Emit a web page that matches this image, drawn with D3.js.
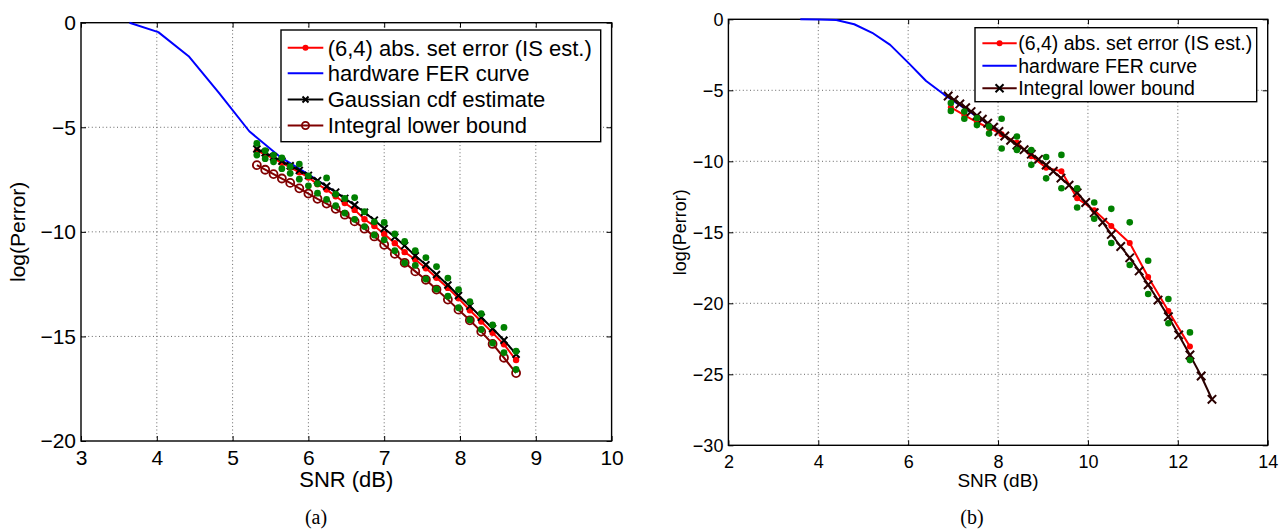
<!DOCTYPE html>
<html><head><meta charset="utf-8">
<script src="https://cdn.jsdelivr.net/npm/d3@7"></script>
<style>html,body{margin:0;padding:0;background:#fff}svg{display:block}</style>
</head><body>
<svg id="chart" width="1279" height="531"></svg>
<script>
// ---------- Panel (a) data ----------
const xTicksA = [3,4,5,6,7,8,9,10];
const yTicksA = [0,-5,-10,-15,-20];
const snrA   = [5.32,5.43,5.54,5.65,5.76,5.88,6.00,6.12,6.24,6.36,6.48,6.61,6.74,6.87,7.00,7.14,7.27,7.41,7.55,7.69,7.84,7.98,8.13,8.28,8.43,8.58,8.74];
const isEstA = [-6.12,-6.30,-6.50,-6.70,-6.92,-7.15,-7.40,-7.72,-7.98,-8.30,-8.62,-8.95,-9.40,-9.72,-10.10,-10.54,-10.97,-11.32,-11.74,-12.20,-12.68,-13.18,-13.75,-14.29,-14.83,-15.38,-16.13];
const gaussA = [-6.04,-6.22,-6.42,-6.62,-6.84,-7.06,-7.30,-7.55,-7.82,-8.10,-8.40,-8.72,-9.06,-9.44,-9.84,-10.25,-10.66,-11.14,-11.57,-12.04,-12.54,-13.04,-13.55,-14.08,-14.62,-15.18,-15.85];
const lowerA = [-6.81,-7.03,-7.24,-7.45,-7.66,-7.92,-8.17,-8.42,-8.65,-8.90,-9.18,-9.50,-9.85,-10.22,-10.62,-11.05,-11.48,-11.89,-12.29,-12.76,-13.24,-13.72,-14.23,-14.77,-15.36,-16.02,-16.75];
const greenHiA = [-5.77,-6.12,-6.33,-6.47,-6.88,-6.76,-7.32,-7.70,-7.42,-8.20,-8.40,-8.36,-9.04,-9.52,-9.55,-10.10,-10.46,-10.90,-11.23,-11.66,-12.21,-12.76,-13.34,-13.91,-14.45,-14.57,-15.71];
const greenLoA = [-6.33,-6.50,-6.65,-6.98,-7.20,-7.48,-7.80,-8.15,-8.45,-8.75,-9.10,-9.40,-9.75,-10.15,-10.38,-10.90,-11.48,-11.60,-12.26,-12.74,-13.08,-13.63,-14.21,-14.67,-15.32,-15.77,-16.58];
const ferSnrA = [3.64,4.02,4.42,4.82,5.22,5.62,6.02,6.42];
const ferA    = [0,-0.45,-1.60,-3.35,-5.19,-6.40,-7.30,-8.25];

// ---------- Panel (b) data ----------
const xTicksB = [2,4,6,8,10,12,14];
const yTicksB = [0,-5,-10,-15,-20,-25,-30];
const isSnrB  = [6.95,7.25,7.53,7.80,8.08,8.42,8.74,9.07,9.41,9.76,10.14,10.52,10.93,11.34,11.79,12.27];
const isEstB  = [-6.20,-6.75,-7.25,-7.65,-8.10,-8.70,-9.65,-10.45,-10.70,-12.60,-13.45,-14.55,-15.75,-18.15,-20.55,-23.05];
const greenHiB = [-5.90,-6.50,-6.95,-7.55,-7.00,-8.25,-9.20,-9.70,-9.55,-11.90,-12.90,-13.35,-14.30,-17.00,-19.70,-22.05];
const greenLoB = [-6.45,-7.00,-7.45,-8.05,-9.10,-9.20,-10.25,-11.20,-11.90,-13.25,-14.05,-15.75,-17.30,-19.35,-21.40,-24.00];
const lbSnrB  = [6.89,7.02,7.15,7.28,7.40,7.53,7.65,7.77,7.90,8.02,8.15,8.28,8.42,8.58,8.74,8.90,9.07,9.23,9.40,9.58,9.76,9.95,10.14,10.33,10.52,10.73,10.93,11.14,11.34,11.56,11.79,12.02,12.27,12.52,12.76];
const lowerB  = [-5.40,-5.68,-5.96,-6.22,-6.50,-6.78,-7.04,-7.32,-7.60,-7.90,-8.22,-8.52,-8.85,-9.18,-9.50,-9.86,-10.26,-10.70,-11.18,-11.68,-12.22,-12.90,-13.62,-14.30,-15.15,-16.00,-16.80,-17.72,-18.70,-19.77,-20.94,-22.23,-23.64,-25.12,-26.76];
const ferSnrB = [3.6,4.0,4.4,4.8,5.2,5.6,6.0,6.4,6.8,7.2,7.6,8.0];
const ferB    = [0,-0.01,-0.05,-0.35,-0.95,-1.80,-3.05,-4.35,-5.30,-6.15,-7.00,-7.80];

const SANS = "'Liberation Sans', Arial, Helvetica, sans-serif";
const SERIF = "'Liberation Serif', 'Times New Roman', serif";
const RED = "#ff0000", BLUE = "#0000ff", GREEN = "#008000", BLACK = "#000000", MAROON = "#800000", DARK = "#2a0000";

const svg = d3.select("#chart");
svg.append("rect").attr("width",1279).attr("height",531).attr("fill","#fff");

const xMark = s => `M${-s},${-s}L${s},${s}M${-s},${s}L${s},${-s}`;

function panel(o){
  const x = d3.scaleLinear().domain(o.xDomain).range([o.left,o.right]);
  const y = d3.scaleLinear().domain(o.yDomain).range([o.bottom,o.top]);
  const g = svg.append("g");
  const W = o.right-o.left, H = o.bottom-o.top;

  // grid
  g.append("g").selectAll("line").data(o.xTicks.slice(1,-1)).enter().append("line")
    .attr("x1",d=>x(d)).attr("x2",d=>x(d)).attr("y1",o.top).attr("y2",o.bottom)
    .attr("stroke","#666").attr("stroke-width",1).attr("stroke-dasharray","1,2.6");
  g.append("g").selectAll("line").data(o.yTicks.slice(1,-1)).enter().append("line")
    .attr("y1",d=>y(d)).attr("y2",d=>y(d)).attr("x1",o.left).attr("x2",o.right)
    .attr("stroke","#666").attr("stroke-width",1).attr("stroke-dasharray","1,2.6");

  // axes (inside ticks)
  const fmt = d3.format("d");
  const ax = (gen, tr) => {
    const a = g.append("g").attr("transform",tr).call(gen);
    a.select(".domain").remove();
    a.selectAll("line").attr("stroke","#000").attr("stroke-width",1);
    a.selectAll("text").attr("font-family",SANS).attr("font-size",o.tickFont).attr("fill","#000");
    return a;
  };
  ax(d3.axisBottom(x).tickValues(o.xTicks).tickFormat(fmt).tickSizeInner(-5).tickSizeOuter(0).tickPadding(o.xPad), `translate(0,${o.bottom})`);
  ax(d3.axisTop(x).tickValues(o.xTicks).tickFormat("").tickSizeInner(-5).tickSizeOuter(0), `translate(0,${o.top})`);
  ax(d3.axisLeft(y).tickValues(o.yTicks).tickFormat(fmt).tickSizeInner(-5).tickSizeOuter(0).tickPadding(5), `translate(${o.left},0)`);
  ax(d3.axisRight(y).tickValues(o.yTicks).tickFormat("").tickSizeInner(-5).tickSizeOuter(0), `translate(${o.right},0)`);

  g.append("rect").attr("x",o.left).attr("y",o.top).attr("width",W).attr("height",H)
    .attr("fill","none").attr("stroke","#000").attr("stroke-width",1.4);

  const clip = g.append("g");
  const line = d3.line().x(d=>x(d[0])).y(d=>y(d[1]));
  o.series.forEach(s=>{
    const pts = s.xs.map((v,i)=>[v,s.ys[i]]);
    if(s.line) clip.append("path").datum(pts).attr("d",line).attr("fill","none")
      .attr("stroke",s.color).attr("stroke-width",s.lw||2).attr("stroke-linejoin","round");
    if(s.marker==="dot") clip.append("g").selectAll("circle").data(pts).enter().append("circle")
      .attr("cx",d=>x(d[0])).attr("cy",d=>y(d[1])).attr("r",s.r).attr("fill",s.color);
    if(s.marker==="circle") clip.append("g").selectAll("circle").data(pts).enter().append("circle")
      .attr("cx",d=>x(d[0])).attr("cy",d=>y(d[1])).attr("r",s.r).attr("fill","none").attr("stroke",s.color).attr("stroke-width",1.8);
    if(s.marker==="x") clip.append("g").selectAll("path").data(pts).enter().append("path")
      .attr("transform",d=>`translate(${x(d[0])},${y(d[1])})`).attr("d",xMark(s.r))
      .attr("stroke",s.color).attr("stroke-width",2);
  });

  // legend
  const L = o.legend;
  const lg = g.append("g");
  lg.append("rect").attr("x",L.x0).attr("y",L.y0).attr("width",L.x1-L.x0).attr("height",L.y1-L.y0)
    .attr("fill","#fff").attr("stroke","#000").attr("stroke-width",1.4);
  L.items.forEach((it,i)=>{
    const cy = L.rows[i];
    lg.append("line").attr("x1",L.s0).attr("x2",L.s1).attr("y1",cy).attr("y2",cy)
      .attr("stroke",it.color).attr("stroke-width",2);
    const mx = (L.s0+L.s1)/2;
    if(it.marker==="dot") lg.append("circle").attr("cx",mx).attr("cy",cy).attr("r",3).attr("fill",it.color);
    if(it.marker==="circle") lg.append("circle").attr("cx",mx).attr("cy",cy).attr("r",3.6).attr("fill","none").attr("stroke",it.color).attr("stroke-width",1.8);
    if(it.marker==="x") lg.append("path").attr("transform",`translate(${mx},${cy})`).attr("d",xMark(it.xs||3)).attr("stroke",it.mcolor||it.color).attr("stroke-width",2);
    lg.append("text").attr("x",L.t0).attr("y",cy).attr("dy","0.36em")
      .attr("font-family",SANS).attr("font-size",L.font).attr("fill","#000").text(it.label);
  });

  // titles
  g.append("text").attr("x",(o.left+o.right)/2).attr("y",o.xTitleY).attr("text-anchor","middle")
    .attr("font-family",SANS).attr("font-size",o.xTitleFont).text("SNR (dB)");
  g.append("text").attr("transform",`translate(${o.yTitleX},${(o.top+o.bottom)/2}) rotate(-90)`)
    .attr("text-anchor","middle").attr("font-family",SANS).attr("font-size",o.titleFont).text("log(Perror)");
  g.append("text").attr("x",o.capX).attr("y",o.capY).attr("text-anchor","middle")
    .attr("font-family",SERIF).attr("font-size",20).text(o.caption);
}

panel({
  xDomain:[3,10], yDomain:[-20,0], left:81, right:611.6, top:22.7, bottom:441,
  xTicks:xTicksA, yTicks:yTicksA, tickFont:21, titleFont:21, xTitleFont:22, xPad:9,
  xTitleY:487, yTitleX:25, capX:316, capY:524, caption:"(a)",
  series:[
    {xs:snrA, ys:isEstA, color:RED, line:true, marker:"dot", r:3.2},
    {xs:ferSnrA, ys:ferA, color:BLUE, line:true},
    {xs:snrA, ys:gaussA, color:BLACK, line:true, marker:"x", r:3.5},
    {xs:snrA, ys:lowerA, color:MAROON, line:true, marker:"circle", r:4},
    {xs:snrA, ys:greenHiA, color:GREEN, marker:"dot", r:3.4},
    {xs:snrA, ys:greenLoA, color:GREEN, marker:"dot", r:3.4}
  ],
  legend:{x0:281, x1:600.7, y0:30, y1:141.7, s0:287.7, s1:323.3, t0:327.7, font:22,
    rows:[47.7,73.3,99.5,125.5],
    items:[
      {label:"(6,4) abs. set error (IS est.)", color:RED, marker:"dot"},
      {label:"hardware FER curve", color:BLUE},
      {label:"Gaussian cdf estimate", color:BLACK, marker:"x", xs:3},
      {label:"Integral lower bound", color:MAROON, marker:"circle"}
    ]}
});

panel({
  xDomain:[2,14], yDomain:[-30,0], left:728.4, right:1267.7, top:19.3, bottom:445.3,
  xTicks:xTicksB, yTicks:yTicksB, tickFont:18, titleFont:18, xTitleFont:19, xPad:9.5,
  xTitleY:487, yTitleX:686, capX:972, capY:524, caption:"(b)",
  series:[
    {xs:isSnrB, ys:isEstB, color:RED, line:true, marker:"dot", r:3},
    {xs:ferSnrB, ys:ferB, color:BLUE, line:true},
    {xs:lbSnrB, ys:lowerB, color:DARK, line:true, marker:"x", r:4.2},
    {xs:isSnrB, ys:greenHiB, color:GREEN, marker:"dot", r:3.3},
    {xs:isSnrB, ys:greenLoB, color:GREEN, marker:"dot", r:3.3}
  ],
  legend:{x0:975, x1:1256.7, y0:27.7, y1:101.7, s0:982.4, s1:1016.7, t0:1018.2, font:19.5,
    rows:[43.3,65.7,88.3],
    items:[
      {label:"(6,4) abs. set error (IS est.)", color:RED, marker:"dot"},
      {label:"hardware FER curve", color:BLUE},
      {label:"Integral lower bound", color:"#4a0000", marker:"x", xs:4, mcolor:"#000"}
    ]}
});
</script>
</body></html>
